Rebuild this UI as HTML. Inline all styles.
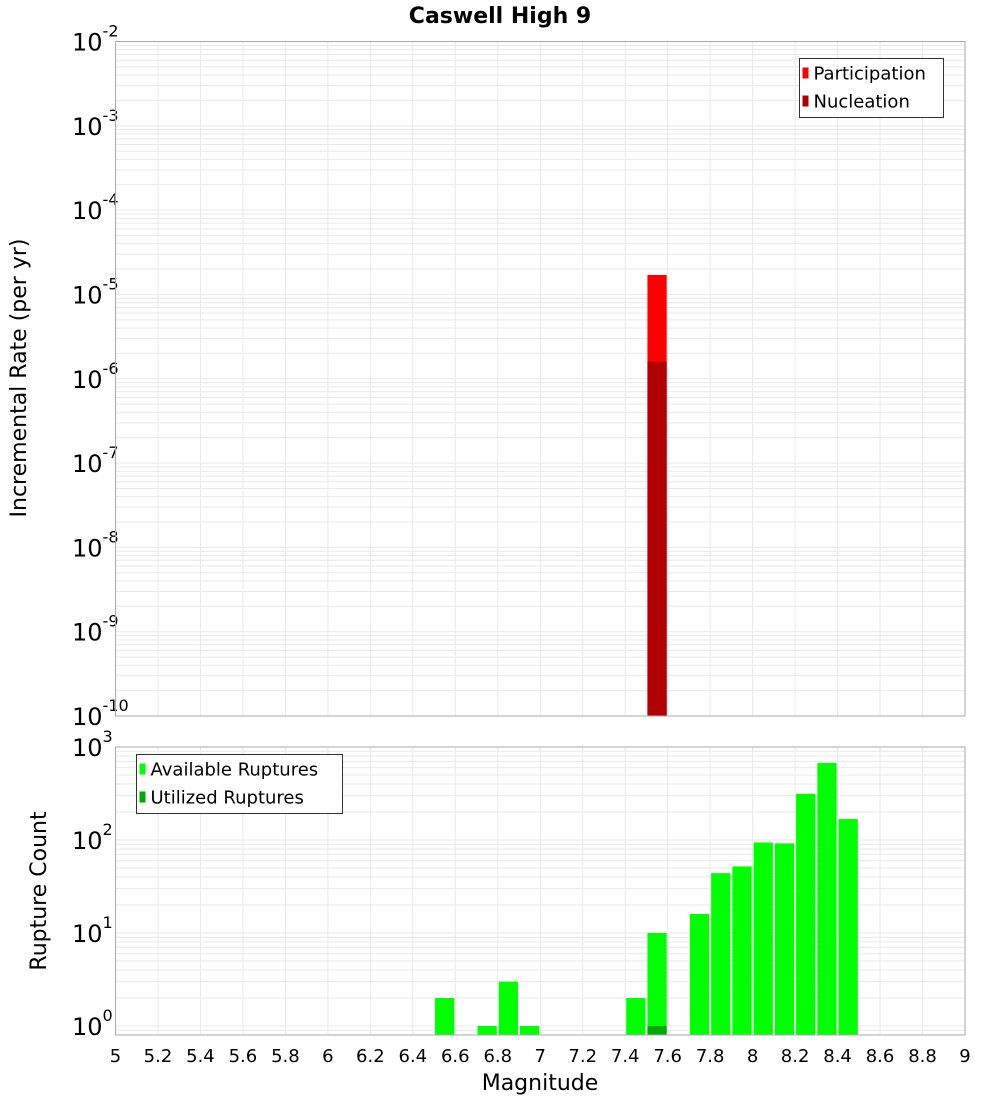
<!DOCTYPE html>
<html><head><meta charset="utf-8"><style>
body{margin:0;background:#fff;}
svg{font-family:"DejaVu Sans","Liberation Sans",sans-serif;}
</style></head><body>
<svg id="c" width="1000" height="1100" xmlns="http://www.w3.org/2000/svg">
<rect width="1000" height="1100" fill="#fff"/>
<text x="500" y="23" text-anchor="middle" font-size="22" font-weight="bold">Caswell High 9</text>
<text transform="translate(26,378) rotate(-90)" text-anchor="middle" font-size="22">Incremental Rate (per yr)</text>
<text transform="translate(46,891) rotate(-90)" text-anchor="middle" font-size="22">Rupture Count</text>
<text x="540" y="1090" text-anchor="middle" font-size="22">Magnitude</text>
<g id="top"></g><g id="bot"></g>
</svg>
<script>
const topMags=[7.5];
const participation=[1.7e-5];
const nucleation=[1.6e-6];
const botMags=[6.5,6.7,6.8,6.9,7.4,7.5,7.7,7.8,7.9,8.0,8.1,8.2,8.3,8.4];
const available=[2,1,3,1,2,10,16,44,52,94,92,314,673,168];
const utilizedMags=[7.5];
const utilized=[1];
const xTicks=[5,5.2,5.4,5.6,5.8,6,6.2,6.4,6.6,6.8,7,7.2,7.4,7.6,7.8,8,8.2,8.4,8.6,8.8,9];
const topExps=[-10,-9,-8,-7,-6,-5,-4,-3,-2];
const botExps=[0,1,2,3];

const NS="http://www.w3.org/2000/svg";
const X0=115.5,X1=965;
const xs=m=>X0+(m-5)/4*(X1-X0);
function mk(p,t,a){const e=document.createElementNS(NS,t);for(const k in a)e.setAttribute(k,a[k]);p.appendChild(e);return e;}
function panel(g,top,bot,lmin,lmax,exps,name){
  const ys=v=>bot-(Math.log10(v)-lmin)/(lmax-lmin)*(bot-top);
  for(let d=Math.floor(lmin);d<Math.ceil(lmax);d++)for(let k=1;k<10;k++){
    const v=k*Math.pow(10,d);const l=Math.log10(v);if(l<lmin||l>lmax)continue;
    const y=ys(v);
    const ln=mk(g,'line',{x1:X0,x2:X1,y1:y,y2:y,stroke:'#e9e9e9','stroke-width':1});
    
    
  }
  xTicks.forEach(t=>{const x=xs(t);
    const ln=mk(g,'line',{x1:x,x2:x,y1:top,y2:bot,stroke:'#e9e9e9','stroke-width':1});
    
    
  });
  exps.forEach(e=>{const y=ys(Math.pow(10,e));
    const t=mk(g,'text',{x:72,y:y+9,'font-size':24});
    
    
    t.textContent='10';
    const s=mk(t,'tspan',{dy:-14,'font-size':16});s.textContent=String(e);
  });
  return ys;
}
const gt=document.getElementById('top'),gb=document.getElementById('bot');
const TT=41.5,TB=716,BT=747,BB=1035;
const yt=panel(gt,TT,TB,-10,-2,topExps,'top');
const yb=panel(gb,BT,BB,Math.log10(0.8),3,botExps,'bottom');
function bar(g,m,v,ys,bot,fill,name){
  const x=xs(m)+1,w=xs(m+0.1)-xs(m)-2,y=ys(v);
  const r=mk(g,'rect',{x:x,y:y,width:w,height:bot-y,fill:fill});
  
  
}
topMags.forEach((m,i)=>bar(gt,m,participation[i],yt,TB,'#ff0000','participation-bar'));
topMags.forEach((m,i)=>bar(gt,m,nucleation[i],yt,TB,'#b00000','nucleation-bar'));
botMags.forEach((m,i)=>bar(gb,m,available[i],yb,BB,'#00ff00','available-bar'));
utilizedMags.forEach((m,i)=>bar(gb,m,utilized[i],yb,BB,'#00aa00','utilized-bar'));
[[TT,TB,'top'],[BT,BB,'bottom']].forEach(([a,b,n])=>{
  const r=mk(n=='top'?gt:gb,'rect',{x:X0,y:a,width:X1-X0,height:b-a,fill:'none',stroke:'#aaaaaa','stroke-width':1});
  
  
});
xTicks.forEach(t=>{
  const tx=mk(gb,'text',{x:xs(t),y:1062,'text-anchor':'middle','font-size':18});
  
  
  tx.textContent=String(t);
});
function legend(g,x,y,w,items,name){
  const r=mk(g,'rect',{x:x,y:y,width:w,height:59,fill:'#fff',stroke:'#333','stroke-width':1});
  
  
  items.forEach(([lab,c],i)=>{
    const s=mk(g,'rect',{x:x+3,y:y+9+i*28,width:6,height:11,fill:c});
    
    
    const t=mk(g,'text',{x:x+14,y:y+21+i*28,'font-size':18});
    
    
    t.textContent=lab;
  });
}
legend(gt,799.5,58.5,144,[['Participation','#ff0000'],['Nucleation','#b00000']],'top-legend');
legend(gb,136.5,754.5,206,[['Available Ruptures','#00ff00'],['Utilized Ruptures','#00aa00']],'bottom-legend');
</script>
</body></html>
